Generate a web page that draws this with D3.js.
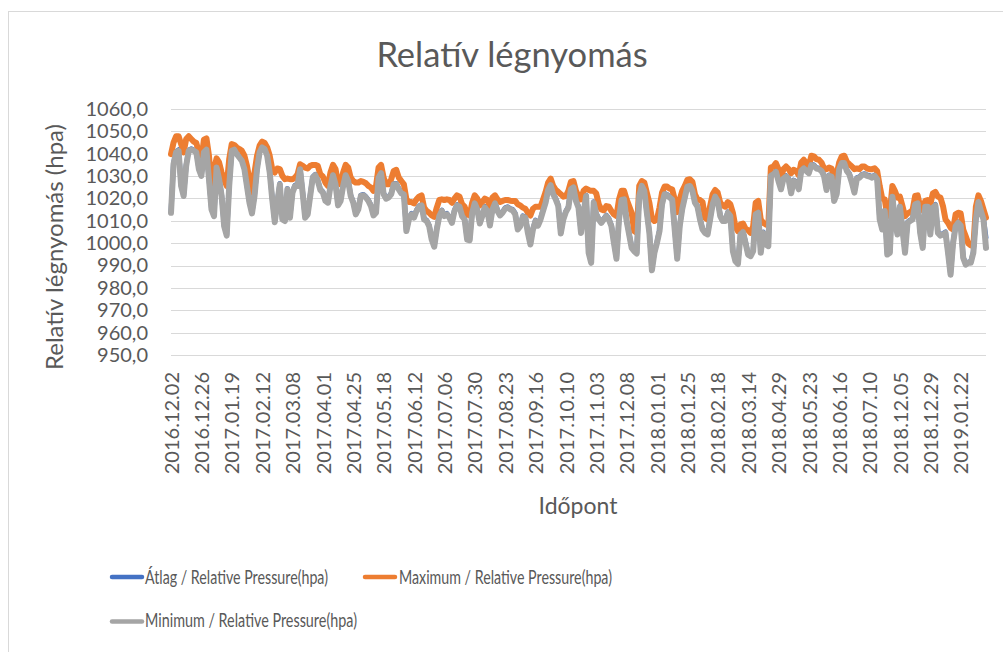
<!DOCTYPE html>
<html>
<head>
<meta charset="utf-8">
<script src="https://cdn.jsdelivr.net/npm/d3@7/dist/d3.min.js"></script>
<style>
  html, body { margin: 0; padding: 0; background: #ffffff; }
  svg { display: block; font-family: Lato, "Open Sans", "Liberation Sans", sans-serif; }
</style>
</head>
<body>
<svg id="chart" width="1003" height="652"></svg>
<script>
// Relative air pressure, one sample every 2 recorded days (hPa)
const daysPerSample = 2;
const lastDay = 644;

const categoryLabels = [
  "2016.12.02", "2016.12.26", "2017.01.19", "2017.02.12", "2017.03.08", "2017.04.01",
  "2017.04.25", "2017.05.18", "2017.06.12", "2017.07.06", "2017.07.30", "2017.08.23",
  "2017.09.16", "2017.10.10", "2017.11.03", "2017.12.08", "2018.01.01", "2018.01.25",
  "2018.02.18", "2018.03.14", "2018.04.29", "2018.05.23", "2018.06.16", "2018.07.10",
  "2018.12.05", "2018.12.29", "2019.01.22"
];
const labelEvery = 24;

const yTicks = [950, 960, 970, 980, 990, 1000, 1010, 1020, 1030, 1040, 1050, 1060];

const pressureMax = [
  1039.8, 1045, 1047.8, 1047.8, 1044.3, 1040.6, 1046.6, 1047.8, 1046.6, 1045.4,
  1044.8, 1040.6, 1036.8, 1046.3, 1046.9, 1039.1, 1025.6, 1033.1, 1037.9, 1036.1,
  1031.6, 1028.6, 1025.6, 1037.6, 1044.3, 1043.9, 1042.8, 1042.1, 1041.3, 1039.1,
  1034.6, 1028.6, 1022.6, 1031.6, 1039.1, 1043.6, 1045.4, 1044.8, 1042.8, 1039.1,
  1033.1, 1031.6, 1033.4, 1033.1, 1030.1, 1028.6, 1028.9, 1028.6, 1028.6, 1029.3,
  1030.8, 1035.3, 1034.6, 1033.8,
  1033.4, 1034.6, 1035, 1035, 1034.6, 1030.8, 1029.8, 1027.1, 1025.6, 1031.6,
  1035, 1033.1, 1027.1, 1026.3, 1031.6, 1035, 1033.8, 1029.3, 1027.8, 1027.1,
  1027.1, 1027.8, 1027.4, 1026.8, 1025.6, 1024.9, 1023.4, 1025.6, 1033.8, 1035,
  1029.3, 1026.3, 1026.3, 1028.6, 1032.3, 1032.8, 1029.3, 1027.8, 1026.3, 1019.6,
  1018.4, 1018.4, 1017.8, 1019.6, 1020.8, 1021.4, 1015.9, 1014.4, 1013.6, 1012.4,
  1011.8, 1015.9, 1019.3, 1019.6, 1019.3,
  1019.6, 1019.3, 1018.1, 1019.9, 1021.4, 1020.8, 1017.4, 1016.3, 1012.9, 1012.4,
  1018.1, 1021.4, 1019.9, 1016.9, 1018.4, 1019.9, 1019.3, 1016.3, 1020.4, 1021.4,
  1019.6, 1018.4, 1018.9, 1019.3, 1019.3, 1019, 1018.9, 1018.9, 1017.4, 1016.9,
  1015.9, 1015.4, 1013.6, 1012.4, 1015.4, 1016.3, 1016.3, 1016.3, 1019.6, 1022.9,
  1027.1, 1028.9, 1025.6, 1023.8, 1022.9, 1021.9, 1020.8, 1021.1, 1023.4, 1027.4,
  1027.8, 1023.4, 1021.1, 1019.6, 1023.4,
  1024.4, 1023.8, 1023.4, 1023.4, 1022.3, 1017.4, 1015.1, 1014.7, 1016.6, 1016.3,
  1014.4, 1012.9, 1012.1, 1019.6, 1023.4, 1023.4, 1019.6, 1016.6, 1013.6, 1005.4,
  1004.6, 1025.6, 1027.8, 1027.1, 1022.6, 1018.1, 1011, 1009.9, 1010.6, 1015.9,
  1022.6, 1025.3, 1025.3, 1024.4, 1024.1, 1019.6, 1013.9, 1019.6, 1023.4, 1025.6,
  1028.3, 1028.6, 1027.4, 1021.9, 1019.6, 1019.3, 1018.4, 1011.4, 1010.6, 1016.6,
  1021.9, 1023.8, 1022.6, 1018.1, 1016.9, 1016.3,
  1018.4, 1017.4, 1013.6, 1007.3, 1005.4, 1008.4, 1008.8, 1006.4, 1005.8, 1004.6,
  1007.6, 1018.1, 1018.9, 1010.6, 1009.1, 1008.4, 1007.9, 1033.8, 1034.3, 1035.8,
  1033.1, 1029.3, 1033.1, 1034.3, 1033.1, 1031.3, 1032.8, 1032.3, 1030.4, 1036.1,
  1037.3, 1035.8, 1034.6, 1039.1, 1038.8, 1037.6, 1037.3, 1036.1, 1033.4, 1033.1,
  1033.8, 1033.4, 1029.3, 1030.8, 1036.1, 1038.8, 1039.1, 1036.4, 1035.3, 1034.3,
  1033.1, 1033.4, 1033.1, 1034.3, 1034.3,
  1033.4, 1033.1, 1033.1, 1033.5, 1032.3, 1025.6, 1019.9, 1019.6, 1012.1, 1013.6,
  1025.6, 1023.4, 1020.4, 1020.8, 1016.6, 1012.1, 1013.3, 1013.9, 1014.8, 1021.1,
  1021.4, 1016.3, 1014.8, 1018.9, 1019.3, 1017.4, 1022.3, 1022.9, 1020.8, 1020.4,
  1016.6, 1010.6, 1009.1, 1006.9, 1006.1, 1012.9, 1013.6, 1013.3, 1006.1, 1003.1,
  999.9, 999, 998.7, 1016.3, 1021.4, 1018.9, 1015.1, 1011.4
];

const pressureMin = [
  1013.6, 1035.3, 1040.6, 1041.3, 1025.6, 1021.1, 1034.6, 1041.3, 1041.8, 1041.3,
  1040.6, 1033.1, 1030.1, 1040.6, 1041.8, 1028.6, 1015.1, 1012.1, 1033.8, 1028.6,
  1021.1, 1007.6, 1003.4, 1025.6, 1041.3, 1041.8, 1039.8, 1038.3, 1036.8, 1033.1,
  1025.6, 1018.1, 1013.3, 1021.1, 1033.1, 1040.6, 1042.8, 1042.1, 1039.1, 1031.6,
  1019.6, 1009.4, 1018.1, 1026.3, 1010.6, 1009.9, 1024.1, 1011.4, 1022.6, 1025.6,
  1025.6, 1033.1, 1022.6, 1011.4,
  1012.9, 1021.1, 1029.3, 1030.4, 1027.8, 1023.8, 1022.6, 1018.9, 1018.1, 1025.6,
  1030.4, 1026.3, 1016.9, 1018.9, 1025.6, 1030.4, 1027.8, 1021.1, 1018.1, 1012.9,
  1015.1, 1021.1, 1021.4, 1020.4, 1018.9, 1016.6, 1012.4, 1013.6, 1029.3, 1031.3,
  1021.9, 1019.9, 1020.4, 1021.9, 1026.3, 1026.3, 1024.1, 1022.3, 1021.9, 1005.4,
  1010.6, 1012.9, 1011.4, 1014.4, 1016.3, 1016.9, 1010.6, 1009.9, 1007.6, 1001.6,
  998.4, 1006.1, 1012.1, 1014.4, 1012.1,
  1012.9, 1011.4, 1009.1, 1014.4, 1016.9, 1016.3, 1012.1, 1010.6, 1001.6, 1001.3,
  1013.6, 1017.8, 1015.1, 1008.8, 1012.1, 1016, 1014.4, 1007.9, 1015.1, 1017.8,
  1014.4, 1012.4, 1013.6, 1015.4, 1015.9, 1015.1, 1014.7, 1012.9, 1006.1, 1007.6,
  1011.8, 1011.4, 1004.6, 999.4, 1006.1, 1009.9, 1007.9, 1010.6, 1014.4, 1018.1,
  1023.8, 1025.9, 1021.9, 1019.6, 1016.6, 1004.3, 1010.6, 1013.9, 1015.9, 1024.1,
  1024.9, 1018.9, 1015.9, 1004.6, 1013.6,
  1021.1, 995.7, 991.2, 1018.1, 1012.9, 1010.6, 1009.1, 1010.6, 1012.1, 1010.6,
  1007.6, 1000.1, 993, 1010.6, 1019.3, 1019.6, 1009.9, 1003.9, 997.9, 996.4,
  995.4, 1021.1, 1025.6, 1023.4, 1013.6, 1004.6, 987.9, 995.7, 1000.1, 1005.4,
  1017.4, 1021.9, 1021.4, 1020.4, 1019.6, 1006.1, 993, 1007.6, 1015.4, 1020.4,
  1025.3, 1025.6, 1023.4, 1018.1, 1016.3, 1010.6, 1006.1, 1004.6, 1003.9, 1010.6,
  1017.4, 1020.8, 1018.9, 1012.1, 1009.9, 1009.9,
  1013.6, 1012.1, 996.4, 991.9, 990.7, 1003.9, 1004.9, 1000.1, 994.9, 994.2,
  996.4, 1012.9, 1013.6, 995.7, 1004.6, 999.4, 998.7, 1030.1, 1030.8, 1031.9,
  1027.8, 1024.1, 1028.9, 1029.8, 1028.6, 1022.3, 1027.8, 1027.1, 1024.1, 1032.3,
  1033.4, 1032.3, 1031.3, 1034.9, 1034.6, 1033.4, 1033.1, 1032.3, 1030.1, 1023.8,
  1030.1, 1029.8, 1018.9, 1021.9, 1033.1, 1035.8, 1035.8, 1032.3, 1030.8, 1027.1,
  1022.6, 1028.9, 1029.3, 1030.4, 1030.7,
  1030.1, 1029.8, 1029.3, 1030.1, 1028.6, 1010.6, 1006.1, 1014.4, 994.9, 995.7,
  1020.8, 1010.6, 1003.9, 1016.3, 1006.1, 995.7, 1009.1, 1009.9, 1010.6, 1017.4,
  1017.8, 1004.6, 997.9, 1016.3, 1016.3, 1003.9, 1015.9, 1016.9, 1004.6, 1003.4,
  1003.9, 1004.6, 995.7, 985.9, 1000.1, 1007.6, 1009.1, 1007.9, 993.4, 990.4,
  991.2, 991.2, 995.7, 1010.6, 1018.4, 1014.4, 1010.6, 997.9
];

const pressureAvg = [
  1014.0, 1035.8, 1041.0, 1041.8, 1026.0, 1021.5, 1035.0, 1041.7, 1042.2, 1041.7,
  1041.0, 1033.5, 1030.5, 1041.0, 1042.2, 1029.0, 1015.5, 1012.5, 1034.2, 1029.0,
  1021.5, 1008.0, 1003.8, 1026.0, 1041.7, 1042.2, 1040.2, 1038.7, 1037.2, 1033.5,
  1026.0, 1018.5, 1013.7, 1021.5, 1033.5, 1041.0, 1043.2, 1042.5, 1039.5, 1032.0,
  1020.0, 1009.8, 1018.5, 1026.7, 1011.0, 1010.3, 1024.5, 1011.8, 1023.0, 1026.0,
  1026.0, 1033.5, 1023.0, 1011.8,
  1013.3, 1021.5, 1029.7, 1030.8, 1028.2, 1024.2, 1023.0, 1019.3, 1018.5, 1026.0,
  1030.8, 1026.7, 1017.3, 1019.3, 1026.0, 1030.8, 1028.2, 1021.5, 1018.5, 1013.3,
  1015.5, 1021.5, 1021.8, 1020.8, 1019.3, 1017.0, 1012.8, 1014.0, 1029.7, 1031.7,
  1022.3, 1020.3, 1020.8, 1022.3, 1026.7, 1026.7, 1024.5, 1022.7, 1022.3, 1005.8,
  1011.0, 1013.3, 1011.8, 1014.8, 1016.7, 1017.3, 1011.0, 1010.3, 1008.0, 1002.0,
  998.8, 1006.5, 1012.5, 1014.8, 1012.5,
  1013.3, 1011.8, 1009.5, 1014.8, 1017.3, 1016.7, 1012.5, 1011.0, 1002.0, 1001.7,
  1014.0, 1018.2, 1015.5, 1009.2, 1012.5, 1016.4, 1014.8, 1008.3, 1015.5, 1018.2,
  1014.8, 1012.8, 1014.0, 1015.8, 1016.3, 1015.5, 1015.1, 1013.3, 1006.5, 1008.0,
  1012.2, 1011.8, 1005.0, 999.8, 1006.5, 1010.3, 1008.3, 1011.0, 1014.8, 1018.5,
  1024.2, 1026.3, 1022.3, 1020.0, 1017.0, 1004.7, 1011.0, 1014.3, 1016.3, 1024.5,
  1025.3, 1019.3, 1016.3, 1005.0, 1014.0,
  1021.5, 996.1, 991.6, 1018.5, 1013.3, 1011.0, 1009.5, 1011.0, 1012.5, 1011.0,
  1008.0, 1000.5, 993.4, 1011.0, 1019.7, 1020.0, 1010.3, 1004.3, 998.3, 996.8,
  995.8, 1021.5, 1026.0, 1023.8, 1014.0, 1005.0, 988.3, 996.1, 1000.5, 1005.8,
  1017.8, 1022.3, 1021.8, 1020.8, 1020.0, 1006.5, 993.4, 1008.0, 1015.8, 1020.8,
  1025.7, 1026.0, 1023.8, 1018.5, 1016.7, 1011.0, 1006.5, 1005.0, 1004.3, 1011.0,
  1017.8, 1021.2, 1019.3, 1012.5, 1010.3, 1010.3,
  1014.0, 1012.5, 996.8, 992.3, 991.1, 1004.3, 1005.3, 1000.5, 995.3, 994.6,
  996.8, 1013.3, 1014.0, 996.1, 1005.0, 999.8, 999.1, 1030.5, 1031.2, 1032.3,
  1028.2, 1024.5, 1029.3, 1030.2, 1029.0, 1022.7, 1028.2, 1027.5, 1024.5, 1032.7,
  1033.8, 1032.7, 1031.7, 1035.3, 1035.0, 1033.8, 1033.5, 1032.7, 1030.5, 1024.2,
  1030.5, 1030.2, 1019.3, 1022.3, 1033.5, 1036.2, 1036.2, 1032.7, 1031.2, 1027.5,
  1023.0, 1029.3, 1029.7, 1030.8, 1031.1,
  1030.5, 1030.2, 1029.7, 1030.5, 1029.0, 1011.0, 1006.5, 1014.8, 995.3, 996.1,
  1021.2, 1011.0, 1004.3, 1016.7, 1006.5, 996.1, 1009.5, 1010.3, 1011.0, 1017.8,
  1018.2, 1005.0, 998.3, 1016.7, 1016.7, 1004.3, 1016.3, 1017.3, 1005.0, 1003.8,
  1004.3, 1005.0, 996.1, 986.3, 1000.5, 1008.0, 1009.5, 1008.3, 993.8, 990.8,
  991.6, 991.6, 996.1, 1011.0, 1018.8, 1014.8, 1011.0, 1002.5
];

const seriesNames = [
  "Átlag / Relative Pressure(hpa)",
  "Maximum / Relative Pressure(hpa)",
  "Minimum / Relative Pressure(hpa)"
];
const seriesColors = ["#4472C4", "#ED7D31", "#A5A5A5"];
const seriesWidths = [5, 6, 6];

const svg = d3.select("#chart");
const textColor = "#595959";
const gridColor = "#d9d9d9";

// Outer chart frame
svg.append("rect")
  .attr("x", 8.5).attr("y", 11.5)
  .attr("width", 1100).attr("height", 800)
  .attr("fill", "none").attr("stroke", gridColor).attr("stroke-width", 1);

const plot = { left: 171, right: 986, top: 109, bottom: 355 };

const x = d3.scaleLinear().domain([0, lastDay]).range([plot.left, plot.right]);
const y = d3.scaleLinear().domain([950, 1060]).range([plot.bottom, plot.top]);

// Title
svg.append("text")
  .attr("x", 512).attr("y", 67)
  .attr("text-anchor", "middle")
  .attr("fill", textColor)
  .style("font-size", "34.5px")
  .text("Relatív légnyomás");

// Horizontal gridlines
svg.append("g").selectAll("line")
  .data(yTicks)
  .join("line")
  .attr("x1", plot.left).attr("x2", plot.right)
  .attr("y1", d => Math.round(y(d)) + 0.5).attr("y2", d => Math.round(y(d)) + 0.5)
  .attr("stroke", gridColor).attr("stroke-width", 1);

// Y axis labels
const yAxis = d3.axisLeft(y)
  .tickValues(yTicks)
  .tickSize(0)
  .tickPadding(23)
  .tickFormat(d => d3.format(".1f")(d).replace(".", ","));
const yAxisG = svg.append("g")
  .attr("transform", `translate(${plot.left},0)`)
  .call(yAxis);
yAxisG.select(".domain").remove();
yAxisG.selectAll("text")
  .attr("fill", textColor)
  .style("font-size", "20px")
  .style("font-family", "Lato, 'Open Sans', sans-serif");

// Y axis title
svg.append("text")
  .attr("transform", "translate(63,247) rotate(-90)")
  .attr("text-anchor", "middle")
  .attr("fill", textColor)
  .style("font-size", "24px")
  .text("Relatív légnyomás (hpa)");

// X axis category labels, rotated
const labelIdx = categoryLabels.map((_, i) => i * labelEvery);
const xAxis = d3.axisBottom(x)
  .tickValues(labelIdx)
  .tickSize(0)
  .tickFormat((d, i) => categoryLabels[i]);
const xAxisG = svg.append("g")
  .attr("transform", `translate(0,${plot.bottom})`)
  .call(xAxis);
xAxisG.select(".domain").remove();
xAxisG.selectAll("text")
  .attr("fill", textColor)
  .style("font-size", "20px")
  .style("font-family", "Lato, 'Open Sans', sans-serif")
  .attr("text-anchor", "end")
  .attr("transform", "translate(0,17) rotate(-90)")
  .attr("x", 0).attr("y", 0)
  .attr("dy", "0.36em");

// X axis title
svg.append("text")
  .attr("x", 578).attr("y", 514)
  .attr("text-anchor", "middle")
  .attr("fill", textColor)
  .style("font-size", "23px")
  .text("Időpont");

// Series lines: average first, then maximum, minimum on top
const line = d3.line()
  .x((d, i) => x(i * daysPerSample))
  .y(d => y(d));

const seriesData = [pressureAvg, pressureMax, pressureMin];
svg.append("g").selectAll("path")
  .data(seriesData)
  .join("path")
  .attr("d", d => line(d))
  .attr("fill", "none")
  .attr("stroke", (d, i) => seriesColors[i])
  .attr("stroke-width", (d, i) => seriesWidths[i])
  .attr("stroke-linejoin", "round")
  .attr("stroke-linecap", "round");

// Legend
const legendItems = [
  { lx: 112, ly: 577, tx: 145, ty: 583.5, len: 183 },
  { lx: 365, ly: 577, tx: 399, ty: 583.5, len: 213 },
  { lx: 112, ly: 621.5, tx: 145, ty: 627, len: 212 }
];
const legend = svg.append("g");
legendItems.forEach((p, i) => {
  legend.append("line")
    .attr("x1", p.lx).attr("x2", p.lx + 30)
    .attr("y1", p.ly).attr("y2", p.ly)
    .attr("stroke", seriesColors[i]).attr("stroke-width", 4.5)
    .attr("stroke-linecap", "round");
  legend.append("text")
    .attr("x", p.tx).attr("y", p.ty)
    .attr("fill", textColor)
    .style("font-size", "18.5px")
    .attr("textLength", p.len)
    .attr("lengthAdjust", "spacingAndGlyphs")
    .text(seriesNames[i]);
});
</script>
</body>
</html>
